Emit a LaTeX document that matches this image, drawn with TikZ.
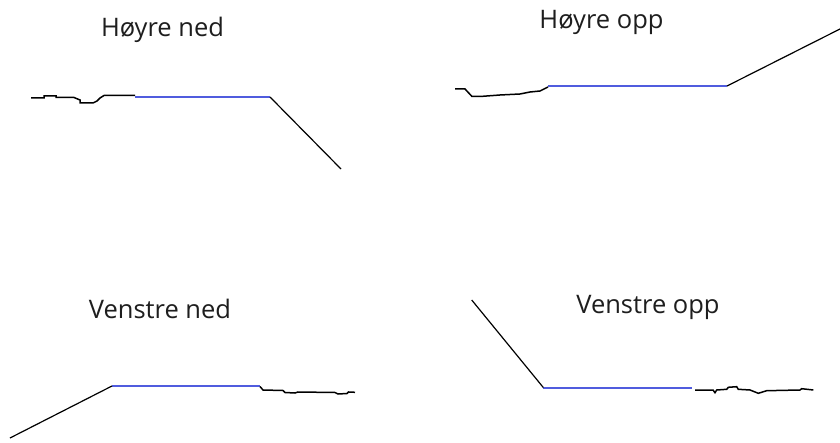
\documentclass[tikz,border=0pt]{standalone}
\usepackage{fontspec}
\setmainfont{Open Sans}
\definecolor{flatblue}{RGB}{80,92,222}
\definecolor{inkgray}{RGB}{30,30,30}
\begin{document}
\begin{tikzpicture}[x=1pt,y=-1pt,
  lbl/.style={anchor=base,inner sep=0pt,font=\fontsize{25.5}{30}\selectfont,text=inkgray},
  ground/.style={draw=black,line width=1.5pt,line join=miter},
  slope/.style={draw=black,line width=1.2pt},
  flat/.style={draw=flatblue,line width=1.6pt}]
\fill[white] (0,0) rectangle (840,443);
\useasboundingbox (0,0) rectangle (840,443);
% Panel 1: Hoyre ned
\draw[flat] (135,97) -- (270,97);
\draw[ground] (31,98) -- (44,98) -- (44,96) -- (56,96) -- (56,97.5) -- (74,97.5) -- (80,100) -- (80,103) -- (93,103) -- (97,101) -- (100,98) -- (104,95.5) -- (135,95.5);
\draw[slope] (270,97) -- (341,169);
% Panel 2: Hoyre opp
\draw[flat] (548,86) -- (727,86);
\draw[ground] (455,89) -- (465,89) -- (472,96.5) -- (480,96.5) -- (500,95) -- (520,94) -- (530,92) -- (540,91) -- (548,87);
\draw[slope] (727,86) -- (840,29);
% Panel 3: Venstre ned
\draw[flat] (112,386) -- (260,386);
\draw[slope] (10,438) -- (112,386);
\draw[ground] (260,386.5) -- (263,390) -- (283,390.5) -- (285,392.5) -- (295,393) -- (298,392) -- (335,392.5) -- (338,394) -- (347,393.5) -- (348.5,392) -- (355,392.3);
% Panel 4: Venstre opp
\draw[flat] (543,388) -- (692,388);
\draw[slope] (471.7,300) -- (543.3,387.5);
\draw[ground] (695,390) -- (713,390) -- (715,392.7) -- (716.7,390) -- (726.7,389.3) -- (728.3,387.3) -- (736.7,386.7) -- (738.3,389.3) -- (750,390) -- (758.3,393.3) -- (766.7,390.7) -- (800,390) -- (801.7,388.7) -- (813.3,390);
% Labels
\node[lbl] (t1) at (162.5,37) {Høyre ned};
\node[lbl] (t2) at (601.5,29) {Høyre opp};
\node[lbl] (t3) at (160,319) {Venstre ned};
\node[lbl] (t4) at (648,313) {Venstre opp};
\end{tikzpicture}
\end{document}
